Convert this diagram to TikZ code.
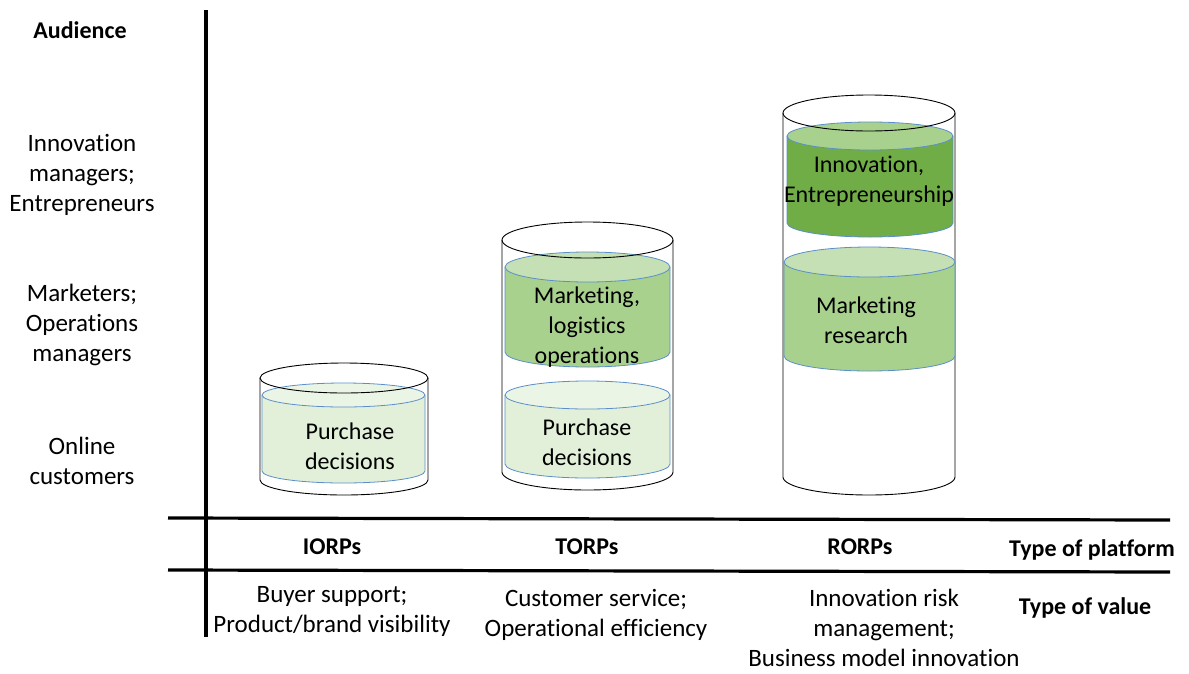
\documentclass[tikz,border=0pt]{standalone}
\usepackage{fontspec}
\setmainfont{Carlito}[Ligatures=NoCommon]
\usetikzlibrary{positioning}
\definecolor{paleG}{HTML}{E2F0D9}
\definecolor{paleGtop}{HTML}{EBF5E6}
\definecolor{midG}{HTML}{A9D18E}
\definecolor{midGtop}{HTML}{C5E0B4}
\definecolor{darkG}{HTML}{70AD47}
\definecolor{rimB}{HTML}{5B8FC9}
% cylinder: centre x, x radius, top y, bottom y, y radius, body style, top style
\newcommand{\vessel}[7]{%
  \fill[#6,draw=none] (#1-#2,#3) -- (#1-#2,#4) arc[start angle=180,end angle=360,x radius=#2,y radius=#5] -- (#1+#2,#3) -- cycle;
  \draw[#6,fill=none] (#1-#2,#3) -- (#1-#2,#4) arc[start angle=180,end angle=360,x radius=#2,y radius=#5] -- (#1+#2,#3);
  \draw[#7] (#1,#3) ellipse[x radius=#2,y radius=#5];
}
\begin{document}
\begin{tikzpicture}
[x=1pt, y=1pt,
axis/.style={line width=3.2pt},
glass/.style={draw=black, line width=0.9pt, fill=white},
pale/.style={draw=rimB, line width=0.8pt, fill=paleG},
paletop/.style={draw=rimB, line width=0.8pt, fill=paleGtop},
mid/.style={draw=rimB, line width=0.8pt, fill=midG},
midtop/.style={draw=rimB, line width=0.8pt, fill=midGtop},
dark/.style={draw=rimB, line width=0.8pt, fill=darkG},
darktop/.style={draw=rimB, line width=0.8pt, fill=midG}
]
\tikzset{every node/.style={align=center, font=\fontsize{25}{30}\selectfont, inner sep=0pt}}
\tikzset{head/.style={font=\fontsize{24}{28}\selectfont\bfseries}}
\tikzset{inside/.style={font=\fontsize{24}{30}\selectfont}}
\useasboundingbox (0,0) rectangle (1189,-673);
% axes
\coordinate (vtop) at (206,-10);
\coordinate (vbot) at (206,-637);
\coordinate (h1l) at (168,-518);
\coordinate (h1r) at (1170,-520);
\coordinate (h2l) at (168,-570);
\coordinate (h2r) at (1170,-572);
\draw[axis] (vtop) -- (vbot);
\draw[axis] (h1l) -- (h1r);
\draw[axis] (h2l) -- (h2r);
% outer glasses
\vessel{344}{84}{-378}{-480}{15}{glass}{draw=none}
\vessel{587.5}{85.5}{-240}{-472}{18}{glass}{draw=none}
\vessel{869}{86}{-113}{-477}{18}{glass}{draw=none}
% contents
\vessel{343.5}{81.5}{-395}{-471}{12}{pale}{paletop}
\vessel{587.5}{82.5}{-267}{-352}{15}{mid}{midtop}
\vessel{587.5}{82.5}{-395}{-464}{14}{pale}{paletop}
\vessel{870}{83}{-136}{-223}{14}{dark}{darktop}
\vessel{869.5}{85.5}{-262}{-356}{15}{mid}{midtop}
% rims of the glasses
\draw[glass,fill=none] (344,-378) ellipse[x radius=84,y radius=15];
\draw[glass,fill=none] (587.5,-240) ellipse[x radius=85.5,y radius=18];
\draw[glass,fill=none] (869,-113) ellipse[x radius=86,y radius=18];
% texts in the glasses
\node[inside] (iorpBuy) at (350,-446) {Purchase\\decisions};
\node[inside] (torpOps) at (587,-327) {Marketing,\\logistics\\operations};
\node[inside] (torpBuy) at (587,-442) {Purchase\\decisions};
\node[inside] (rorpInno) at (869,-181) {Innovation,\\Entrepreneurship};
\node[inside] (rorpRes) at (866,-320) {Marketing\\research};
% audience
\node[head] (aud) at (80,-30) {Audience};
\node (audInno) at (82,-175) {Innovation\\managers;\\Entrepreneurs};
\node (audMkt) at (82,-325) {Marketers;\\Operations\\managers};
\node (audCust) at (82,-461) {Online\\customers};
% platforms
\node[head] (iorp) at (332,-547) {IORPs};
\node[head] (torp) at (587,-547) {TORPs};
\node[head] (rorp) at (860,-547) {RORPs};
\node[head] (platform) at (1092,-550) {Type of platform};
\node[head] (value) at (1085,-608) {Type of value};
% values
\node (iorpVal) at (332,-611) {Buyer support;\\Product/brand visibility};
\node (torpVal) at (596,-615) {Customer service;\\Operational efficiency};
\node (rorpVal) at (884,-628) {Innovation risk\\management;\\Business model innovation};
\end{tikzpicture}
\end{document}
